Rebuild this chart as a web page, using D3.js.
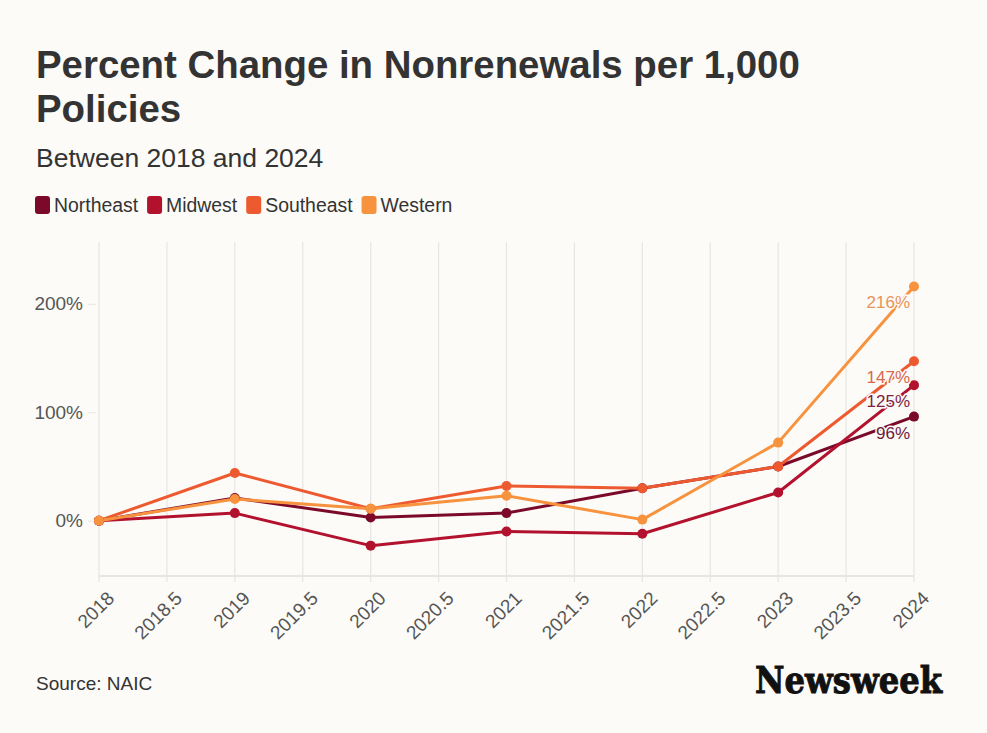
<!DOCTYPE html>
<html>
<head>
<meta charset="utf-8">
<script src="https://cdn.jsdelivr.net/npm/d3@7"></script>
<style>
	body { margin: 0; background: #fcfbf7; }
	svg { display: block; font-family: "Liberation Sans", Arial, sans-serif; }
</style>
</head>
<body>
<svg id="chart" width="987" height="733"></svg>
<script>
const years = [2018, 2019, 2020, 2021, 2022, 2023, 2024]
const regions = ['Northeast', 'Midwest', 'Southeast', 'Western']
const colors = ['#7b0a2a', '#b3122e', '#ee5a30', '#f7923e']
const labelColors = ['#6e1a3b', '#7e1f45', '#d9684e', '#e8935a']

const northeast = [0, 21, 3, 7, 30, 50, 96]
const midwest = [0, 7, -23, -10, -12, 26, 125]
const southeast = [0, 44, 11, 32, 30, 50, 147]
const western = [0, 20, 11, 23, 1, 72, 216]
const seriesValues = [northeast, midwest, southeast, western]

const xTicks = d3.range(2018, 2024.01, 0.5)
const yTicks = [0, 100, 200]

const svg = d3.select('#chart')
const margin = { top: 242, right: 73, bottom: 157, left: 99 }
const W = 987, H = 733

const x = d3.scaleLinear()
	.domain([2018, 2024])
	.range([margin.left, W - margin.right])

const y = d3.scaleLinear()
	.domain([-51, 257])
	.range([H - margin.bottom, margin.top])

// titles
svg.append('text').attr('x', 36).attr('y', 78)
	.style('font-size', '38.4px').style('font-weight', 'bold').attr('fill', '#333')
	.text('Percent Change in Nonrenewals per 1,000')
svg.append('text').attr('x', 36).attr('y', 122)
	.style('font-size', '38.4px').style('font-weight', 'bold').attr('fill', '#333')
	.text('Policies')
svg.append('text').attr('x', 36).attr('y', 167)
	.style('font-size', '26.5px').attr('fill', '#333')
	.text('Between 2018 and 2024')

// legend
let lx = 35
regions.forEach((r, i) => {
	const g = svg.append('g').attr('transform', 'translate(' + lx + ',196)')
	g.append('rect').attr('width', 15).attr('height', 18).attr('rx', 3).attr('fill', colors[i])
	const t = g.append('text').attr('x', 19).attr('y', 16)
		.style('font-size', '19.4px').attr('fill', '#333').text(r)
	lx += 19 + t.node().getComputedTextLength() + 9
})

// grid
svg.append('g').selectAll('line')
	.data(xTicks)
	.enter().append('line')
		.attr('x1', d => x(d)).attr('x2', d => x(d))
		.attr('y1', margin.top).attr('y2', H - margin.bottom + 6)
		.attr('stroke', '#e8e6e3').attr('stroke-width', 1.2)

svg.append('line')
	.attr('x1', x(2018)).attr('x2', x(2024))
	.attr('y1', H - margin.bottom).attr('y2', H - margin.bottom)
	.attr('stroke', '#e8e6e3').attr('stroke-width', 2)

// y axis
const yAxis = svg.append('g')
	.attr('transform', 'translate(' + (margin.left - 3) + ',0)')
	.call(d3.axisLeft(y).tickValues(yTicks).tickFormat(d => d + '%').tickSize(8).tickPadding(5))
yAxis.select('.domain').remove()
yAxis.selectAll('line').attr('stroke', '#e8e6e3')
yAxis.selectAll('text').style('font-size', '19px').attr('fill', '#555')

// x axis labels
svg.append('g').selectAll('text')
	.data(xTicks)
	.enter().append('text')
		.attr('transform', d => 'translate(' + (x(d) + 7) + ',' + (H - margin.bottom + 14) + ') rotate(-45)')
		.attr('text-anchor', 'end')
		.attr('dy', '0.7em')
		.style('font-size', '19px').attr('fill', '#555')
		.text(d => d)

// lines
const line = d3.line()
	.x((d, i) => x(years[i]))
	.y(d => y(d))

seriesValues.forEach((vals, i) => {
	svg.append('path')
		.datum(vals)
		.attr('d', line)
		.attr('fill', 'none')
		.attr('stroke', colors[i])
		.attr('stroke-width', 3)
		.attr('stroke-linejoin', 'round')
})

seriesValues.forEach((vals, i) => {
	svg.append('g').selectAll('circle')
		.data(vals)
		.enter().append('circle')
			.attr('cx', (d, j) => x(years[j]))
			.attr('cy', d => y(d))
			.attr('r', 5)
			.attr('fill', colors[i])
})

// end labels
seriesValues.forEach((vals, i) => {
	const last = vals[vals.length - 1]
	svg.append('text')
		.attr('x', x(2024) - 4)
		.attr('y', y(last) + 22)
		.attr('text-anchor', 'end')
		.style('font-size', '17px')
		.attr('fill', labelColors[i])
		.attr('stroke', '#fcfbf7').attr('stroke-width', 3).attr('paint-order', 'stroke')
		.text(last + '%')
})

// footer
svg.append('text').attr('x', 36).attr('y', 690)
	.style('font-size', '19px').attr('fill', '#333')
	.text('Source: NAIC')
svg.append('text').attr('x', 755).attr('y', 693)
	.attr('textLength', 187).attr('lengthAdjust', 'spacingAndGlyphs')
	.style('font-family', '"DejaVu Serif", "Liberation Serif", serif')
	.style('font-size', '37px').style('font-weight', 'bold').attr('fill', '#111')
	.attr('stroke', '#111').attr('stroke-width', 1)
	.text('Newsweek')
</script>
</body>
</html>
